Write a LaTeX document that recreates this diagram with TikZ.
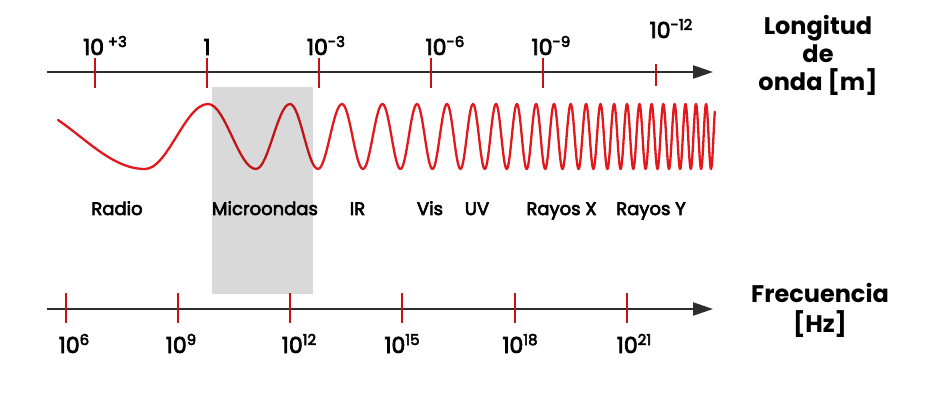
\documentclass[tikz,border=0pt]{standalone}
\usepackage{fontspec}
\setmainfont{Poppins}
\newfontfamily\medfont{Poppins}[FakeBold=3.5]
\usetikzlibrary{arrows.meta}
\definecolor{wavered}{RGB}{226,24,28}
\definecolor{tickred}{RGB}{200,16,22}
\definecolor{axisgray}{RGB}{45,45,45}
\newcommand\supx[1]{\raisebox{8pt}{\fontsize{15}{15}\selectfont #1}}
\begin{document}
\begin{tikzpicture}[x=1pt,y=1pt,
  axisline/.style={line width=2.3pt, draw=axisgray, -{Triangle[length=20pt,width=13pt]}},
  redtick/.style={line width=2.6pt, draw=tickred},
  wavepath/.style={line width=2.3pt, draw=wavered, line join=round, line cap=round},
  lbl/.style={font=\medfont\fontsize{22}{22}\selectfont, anchor=base, inner sep=0pt, text=black},
  band/.style={font=\medfont\fontsize{18}{18}\selectfont, anchor=base, inner sep=0pt, text=black},
  side/.style={font=\fontsize{24}{24}\selectfont\bfseries, anchor=base, inner sep=0pt, text=black}]
\useasboundingbox (0,0) rectangle (925,407);
% wave
\draw[wavepath] plot[domain=58:145,samples=30] (\x,{270.5+32.5*cos((\x-15)/130*180)})
  \foreach \a/\b [count=\i] in {145/208,208/256,256/290,290/318,318/342,342/363,363/382.5,382.5/400.5,400.5/417,417/432.5,432.5/447,447/460.5,460.5/473,473/484.8,484.8/496,496/506.7,506.7/516.9,516.9/526.7,526.7/536.1,536.1/545.2,545.2/554,554/562.5,562.5/570.7,570.7/578.6,578.6/586.1,586.1/593.4,593.4/600.5,600.5/607.4,607.4/614.1,614.1/620.6,620.6/627,627/633.3,633.3/639.5,639.5/645.6,645.6/651.6,651.6/657.5,657.5/663.3,663.3/669,669/674.6,674.6/680.1,680.1/685.5,685.5/690.8,690.8/696,696/701.1,701.1/706.1,706.1/711}
  { -- plot[domain=\a:\b,samples=16] (\x,{270.5+(1-2*mod(\i,2))*32.5*cos((\x-\a)/(\b-\a)*180)}) }
  -- plot[domain=711:714.8,samples=8] (\x,{270.5-32.5*cos((\x-711)/4.9*180)});
% microwave band
\fill[black,opacity=0.15] (212,113) rectangle (313,320);
% wavelength axis
\coordinate (wl0) at (47,335);
\coordinate (wl1) at (713,335);
\draw[axisline] (wl0) -- (wl1);
\foreach \xx in {95,207,319,431,543} \draw[redtick] (\xx,349) -- (\xx,319);
\draw[redtick] (656,343) -- (656,321);
% frequency axis
\coordinate (fq0) at (47,98);
\coordinate (fq1) at (713,98);
\draw[axisline] (fq0) -- (fq1);
\foreach \xx in {66,178,290,402,515,627} \draw[redtick] (\xx,114) -- (\xx,84);
% wavelength labels
\node[lbl] (w1) at (105,352) {10\,\supx{+3}};
\node[lbl] (w2) at (207,352) {1};
\node[lbl] (w3) at (326,352) {10\supx{-3}};
\node[lbl] (w4) at (445,352) {10\supx{-6}};
\node[lbl] (w5) at (551,352) {10\supx{-9}};
\node[lbl] (w6) at (671,369) {10\supx{-12}};
% frequency labels
\node[lbl] (f1) at (74,54) {10\supx{6}};
\node[lbl] (f2) at (181,54) {10\supx{9}};
\node[lbl] (f3) at (299,54) {10\supx{12}};
\node[lbl] (f4) at (402,54) {10\supx{15}};
\node[lbl] (f5) at (520,54) {10\supx{18}};
\node[lbl] (f6) at (634,54) {10\supx{21}};
% band labels
\node[band] (b1) at (117,192) {Radio};
\node[band] (b2) at (265,192) {Microondas};
\node[band] (b3) at (357.5,192) {IR};
\node[band] (b4) at (430,192) {Vis};
\node[band] (b5) at (477,192) {UV};
\node[band] (b6) at (561.5,192) {Rayos X};
\node[band] (b7) at (651,192) {Rayos Y};
% side titles
\node[side] (s1) at (818,372) {Longitud};
\node[side] (s2) at (818,344) {de};
\node[side] (s3) at (818,316) {onda [m]};
\node[side] (s4) at (820,105) {Frecuencia};
\node[side] (s5) at (820,75) {[Hz]};
\end{tikzpicture}
\end{document}
